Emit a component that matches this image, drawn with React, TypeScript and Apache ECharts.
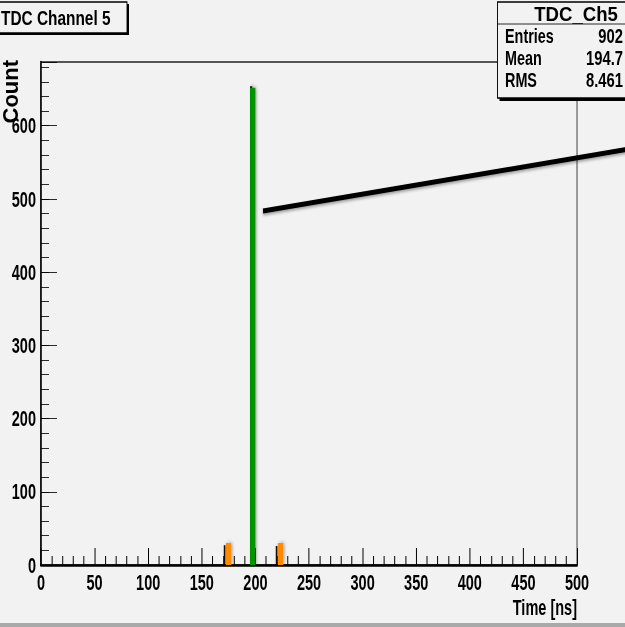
import React, { useEffect, useRef } from "react";
import * as echarts from "echarts";

// ---- data ----
const xRange = [0, 500];
const yMaxValue = 687;
const xLabelInterval = 50;
const yLabelInterval = 100;
// bins: [xStart, xEnd, count]
const blackBins = [
  [170.5, 172, 27],
  [195, 197, 654],
  [219, 220.5, 26],
];
const orangeBins = [
  [172.5, 177.5, 30],
  [221, 226, 30],
];
const greenBins = [[195, 200, 652]];
const titleText = "TDC Channel 5";
const statsTitle = "TDC_Ch5";
const statsLabels = ["Entries", "Mean", "RMS"];
const statsValues = ["902", "194.7", "8.461"];
const xAxisTitle = "Time [ns]";
const yAxisTitle = "Count";

const BG = "#f2f2f2";
const SANS = "'Liberation Sans', Arial, sans-serif";
// the original canvas is horizontally condensed: draw wider, then squeeze
const S = 0.66;
const W = 625 / S;
const H = 627;
const px = (v: number) => v / S;

function binSeries(name: string, bins: number[][], color: string, z: number) {
  return {
    type: "custom",
    name,
    z,
    data: bins,
    encode: { x: [0, 1], y: 2 },
    clip: true,
    renderItem: (params: any, api: any) => {
      const a = api.coord([api.value(0), 0]);
      const b = api.coord([api.value(1), api.value(2)]);
      return {
        type: "rect",
        shape: { x: a[0], y: b[1], width: b[0] - a[0], height: a[1] - b[1] },
        style: {
          fill: color,
          shadowBlur: 4,
          shadowOffsetX: 2,
          shadowColor: "rgba(0,0,0,0.3)",
        },
      };
    },
  };
}

export default function App() {
  const ref = useRef<HTMLDivElement>(null);
  useEffect(() => {
    if (!ref.current) return;
    const chart = echarts.init(ref.current, undefined, { renderer: "svg" });
    const rowY = [36.5, 58, 80];
    const statsGraphics: any[] = [];
    statsLabels.forEach((l, i) => {
      statsGraphics.push({
        type: "text",
        x: px(505),
        y: rowY[i],
        scaleX: 0.72 / S,
        z: 102,
        style: {
          text: l,
          font: `bold 20px ${SANS}`,
          fill: "#000",
          align: "left",
          verticalAlign: "middle",
        },
      });
      statsGraphics.push({
        type: "text",
        x: px(623),
        y: rowY[i],
        scaleX: 0.74 / S,
        z: 102,
        style: {
          text: statsValues[i],
          font: `bold 20px ${SANS}`,
          fill: "#000",
          align: "right",
          verticalAlign: "middle",
        },
      });
    });

    const labelStyle = {
      fontSize: 22,
      fontWeight: "bold",
      fontFamily: SANS,
      color: "#000",
    };

    chart.setOption({
      animation: false,
      backgroundColor: BG,
      grid: {
        left: px(41),
        right: px(48),
        top: 62,
        bottom: 62,
        containLabel: false,
        outerBoundsMode: "none",
        show: true,
        borderColor: "#222",
        borderWidth: 1.3,
        backgroundColor: "transparent",
      },
      xAxis: [
        {
          type: "value",
          min: xRange[0],
          max: xRange[1],
          interval: xLabelInterval,
          axisLine: { show: true, onZero: false, lineStyle: { color: "#000", width: 2.5 } },
          axisTick: { show: true, inside: true, length: 17, lineStyle: { color: "#000", width: 1.5 } },
          minorTick: { show: true, splitNumber: 5, length: 9, lineStyle: { color: "#000", width: 1.5 } },
          splitLine: { show: false },
          minorSplitLine: { show: false },
          axisLabel: { margin: 8, lineHeight: 18, ...labelStyle },
        },
      ],
      yAxis: [
        {
          type: "value",
          min: 0,
          max: yMaxValue,
          interval: 20,
          position: "left",
          axisLine: { show: true, onZero: false, lineStyle: { color: "#000", width: 2.3 } },
          axisTick: { show: true, inside: true, length: px(8), lineStyle: { color: "#000", width: 1 } },
          splitLine: { show: false },
          axisLabel: {
            margin: px(5),
            ...labelStyle,
            showMaxLabel: false,
            formatter: (v: number) => (v % yLabelInterval === 0 ? String(v) : ""),
          },
        },
        {
          type: "value",
          min: 0,
          max: yMaxValue,
          interval: yLabelInterval,
          position: "left",
          offset: 0,
          axisLine: { show: false },
          axisTick: { show: true, inside: true, length: px(16), lineStyle: { color: "#000", width: 1 } },
          splitLine: { show: false },
          axisLabel: { show: false },
        },
      ],
      series: [
        binSeries("black", blackBins, "#111", 2),
        binSeries("orange", orangeBins, "#ff8a00", 3),
        binSeries("green", greenBins, "#009400", 4),
      ],
      graphic: [
        // x axis title
        {
          type: "text",
          x: px(577),
          y: 596,
          z: 50,
          style: {
            text: xAxisTitle,
            font: `bold 22px ${SANS}`,
            lineHeight: 22,
            fill: "#000",
            align: "right",
            verticalAlign: "top",
          },
        },
        // y axis title (rotated; undo horizontal squeeze of its glyph height)
        {
          type: "text",
          x: px(20),
          y: 60,
          rotation: Math.PI / 2,
          scaleY: 1 / S,
          z: 50,
          style: {
            text: yAxisTitle,
            font: `bold 22px ${SANS}`,
            lineHeight: 20,
            fill: "#000",
            align: "right",
            verticalAlign: "bottom",
          },
        },
        // annotation line
        {
          type: "line",
          z: 60,
          shape: { x1: px(263), y1: 211, x2: px(630), y2: 148.8 },
          style: {
            stroke: "#000",
            lineWidth: 5,
            shadowBlur: 3,
            shadowOffsetY: 2,
            shadowColor: "rgba(0,0,0,0.35)",
          },
        },
        // title box
        {
          type: "rect",
          z: 90,
          shape: { x: 0, y: 4, width: px(129), height: 31 },
          style: { fill: "#000" },
        },
        {
          type: "rect",
          z: 91,
          shape: { x: px(-2), y: 2, width: px(129), height: 31 },
          style: { fill: BG, stroke: "#000", lineWidth: 1.3 },
        },
        {
          type: "text",
          x: px(1),
          y: 18,
          scaleX: 0.77 / S,
          z: 92,
          style: {
            text: titleText,
            font: `bold 20px ${SANS}`,
            fill: "#000",
            align: "left",
            verticalAlign: "middle",
          },
        },
        // stats box
        {
          type: "rect",
          z: 100,
          shape: { x: px(499.5), y: 4, width: 300, height: 97 },
          style: { fill: "#000" },
        },
        {
          type: "rect",
          z: 101,
          shape: { x: px(497.5), y: 2, width: 300, height: 96 },
          style: { fill: BG, stroke: "#000", lineWidth: 1.4 },
        },
        {
          type: "line",
          z: 102,
          shape: { x1: px(497.5), y1: 24, x2: W, y2: 24 },
          style: { stroke: "#000", lineWidth: 1 },
        },
        {
          type: "text",
          x: px(576),
          y: 14,
          scaleX: 0.93 / S,
          z: 102,
          style: {
            text: statsTitle,
            font: `bold 20px ${SANS}`,
            fill: "#000",
            align: "center",
            verticalAlign: "middle",
          },
        },
        ...statsGraphics,
        // bottom gray band
        {
          type: "rect",
          z: 5,
          shape: { x: 0, y: 623, width: W, height: 4 },
          style: { fill: "#a9a9a9" },
        },
      ],
    });
    return () => chart.dispose();
  }, []);
  return (
    <div
      style={{
        position: "absolute",
        left: 0,
        top: 0,
        width: 625,
        height: H,
        overflow: "hidden",
      }}
    >
      <div
        ref={ref}
        style={{
          width: W,
          height: H,
          transform: `scaleX(${S})`,
          transformOrigin: "0 0",
        }}
      />
    </div>
  );
}
